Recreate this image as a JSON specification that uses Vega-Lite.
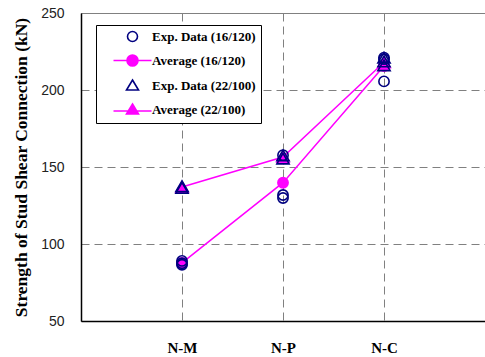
{
  "$schema": "https://vega.github.io/schema/vega-lite/v6.json",
  "width": 404,
  "height": 308,
  "autosize": {"type": "none"},
  "padding": {"left": 81, "top": 13, "right": 0, "bottom": 36},
  "background": "white",
  "config": {
    "view": {"stroke": "#808080", "strokeWidth": 1}
  },
  "data": {
    "values": [
      {"pos": 1, "series": "Average (16/120)", "value": 87.7},
      {"pos": 2, "series": "Average (16/120)", "value": 139.8},
      {"pos": 3, "series": "Average (16/120)", "value": 215.6},
      {"pos": 1, "series": "Average (22/100)", "value": 137},
      {"pos": 2, "series": "Average (22/100)", "value": 156.5},
      {"pos": 3, "series": "Average (22/100)", "value": 218},
      {"pos": 1, "series": "Exp. Data (16/120)", "value": 89},
      {"pos": 1, "series": "Exp. Data (16/120)", "value": 86.5},
      {"pos": 1, "series": "Exp. Data (16/120)", "value": 87.5},
      {"pos": 2, "series": "Exp. Data (16/120)", "value": 131.8},
      {"pos": 2, "series": "Exp. Data (16/120)", "value": 129.9},
      {"pos": 2, "series": "Exp. Data (16/120)", "value": 157.7},
      {"pos": 3, "series": "Exp. Data (16/120)", "value": 205.6},
      {"pos": 3, "series": "Exp. Data (16/120)", "value": 220},
      {"pos": 3, "series": "Exp. Data (16/120)", "value": 221},
      {"pos": 1, "series": "Exp. Data (22/100)", "value": 137.5},
      {"pos": 1, "series": "Exp. Data (22/100)", "value": 136.5},
      {"pos": 2, "series": "Exp. Data (22/100)", "value": 157.5},
      {"pos": 2, "series": "Exp. Data (22/100)", "value": 155.5},
      {"pos": 3, "series": "Exp. Data (22/100)", "value": 221},
      {"pos": 3, "series": "Exp. Data (22/100)", "value": 218.5},
      {"pos": 3, "series": "Exp. Data (22/100)", "value": 216}
    ]
  },
  "layer": [
    {
      "transform": [{"filter": "indexof(datum.series, 'Average') == 0"}],
      "mark": {"type": "line", "color": "#ff00ff", "strokeWidth": 1.5},
      "encoding": {
        "x": {
          "field": "pos", "type": "quantitative",
          "scale": {"domain": [0, 4], "nice": false, "zero": false},
          "axis": {
            "values": [1, 2, 3],
            "labelExpr": "datum.value == 1 ? 'N-M' : datum.value == 2 ? 'N-P' : 'N-C'",
            "title": null,
            "grid": true, "gridColor": "#808080", "gridDash": [8, 5], "gridWidth": 1,
            "domainColor": "black", "domainWidth": 1.5,
            "ticks": false,
            "labelFont": "Liberation Serif", "labelFontWeight": "bold", "labelFontSize": 15,
            "labelColor": "black", "labelPadding": 19
          }
        },
        "y": {
          "field": "value", "type": "quantitative",
          "scale": {"domain": [50, 250], "nice": false, "zero": false},
          "axis": {
            "values": [50, 100, 150, 200, 250],
            "title": "Strength of Stud Shear Connection (kN)",
            "titleFont": "Liberation Serif", "titleFontWeight": "bold", "titleFontSize": 17.5,
            "titleColor": "black", "titlePadding": 10,
            "grid": true, "gridColor": "#808080", "gridDash": [8, 5], "gridWidth": 1,
            "domainColor": "black", "domainWidth": 1.5,
            "ticks": false,
            "labelFont": "Liberation Sans", "labelFontSize": 14, "labelColor": "#222",
            "labelPadding": 17
          }
        },
        "detail": {"field": "series"}
      }
    },
    {
      "mark": {"type": "point", "filled": false, "strokeWidth": 1.6, "opacity": 1},
      "encoding": {
        "x": {"field": "pos", "type": "quantitative"},
        "y": {"field": "value", "type": "quantitative"},
        "shape": {
          "condition": {"test": "indexof(datum.series, '22/100') >= 0", "value": "triangle-up"},
          "value": "circle"
        },
        "fill": {
          "condition": {"test": "indexof(datum.series, 'Average') == 0", "value": "#ff00ff"},
          "value": "transparent"
        },
        "stroke": {
          "condition": {"test": "indexof(datum.series, 'Average') == 0", "value": "#ff00ff"},
          "value": "#000080"
        },
        "size": {
          "condition": {"test": "indexof(datum.series, '16/120') >= 0", "value": 105},
          "value": 150
        }
      }
    },
    {
      "transform": [{"filter": "false"}],
      "mark": {"type": "point", "filled": false, "strokeWidth": 1.6, "opacity": 1},
      "encoding": {
        "x": {"field": "pos", "type": "quantitative"},
        "y": {"field": "value", "type": "quantitative"},
        "shape": {
          "field": "series", "type": "nominal",
          "scale": {
            "domain": ["Exp. Data (16/120)", "Average (16/120)", "Exp. Data (22/100)", "Average (22/100)"],
            "range": [
              "M1,0A1,1 0 1 1 -1,0A1,1 0 1 1 1,0Z",
              "M-3.8,0H3.8M1.1,0A1.1,1.1 0 1 1 -1.1,0A1.1,1.1 0 1 1 1.1,0Z",
              "M0,-1.1L1.2,0.9L-1.2,0.9Z",
              "M-3.8,0.3H3.8M0,-1.1L1.2,0.9L-1.2,0.9Z"
            ]
          },
          "legend": {
            "title": null,
            "orient": "none",
            "legendX": 15,
            "legendY": 12,
            "direction": "vertical",
            "fillColor": "white",
            "strokeColor": "black",
            "padding": 5,
            "symbolOffset": 25,
            "rowPadding": 6,
            "labelOffset": 13,
            "labelFont": "Liberation Serif", "labelFontWeight": "bold", "labelFontSize": 13,
            "labelColor": "black", "labelLimit": 300,
            "symbolSize": 100,
            "symbolStrokeWidth": 1.6
          }
        },
        "fill": {
          "field": "series", "type": "nominal",
          "scale": {
            "domain": ["Exp. Data (16/120)", "Average (16/120)", "Exp. Data (22/100)", "Average (22/100)"],
            "range": ["transparent", "#ff00ff", "transparent", "#ff00ff"]
          }
        },
        "stroke": {
          "field": "series", "type": "nominal",
          "scale": {
            "domain": ["Exp. Data (16/120)", "Average (16/120)", "Exp. Data (22/100)", "Average (22/100)"],
            "range": ["#000080", "#ff00ff", "#000080", "#ff00ff"]
          }
        }
      }
    }
  ]
}
